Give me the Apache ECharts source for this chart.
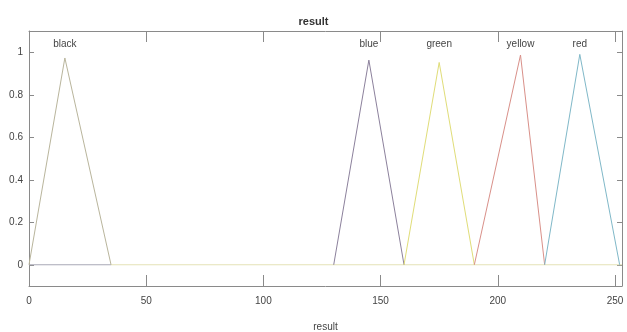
<!DOCTYPE html>
<html>
<head>
<meta charset="utf-8">
<script src="https://cdn.jsdelivr.net/npm/echarts@6/dist/echarts.min.js"></script>
<style>html,body{margin:0;padding:0;background:#fff;}#c{width:627px;height:332px;}</style>
</head>
<body>
<div id="c"></div>
<script>
// Membership functions: [start, peak, end] and peak height
const mfNames = ['black', 'blue', 'green', 'yellow', 'red'];
const mfStart = [0, 130, 160, 190, 220];
const mfPeak = [15.3, 145, 175, 209.7, 235];
const mfEnd = [35, 160, 190, 220, 252];
const mfHeight = [0.973, 0.963, 0.952, 0.987, 0.99];
const mfColors = ['#b9b59c', '#8c819c', '#e0dd78', '#d99089', '#80b8c8'];
// zero baseline segments
const baseGray = [[0, 0], [35, 0]];
const baseLight = [[35, 0], [253, 0]];
const xTicks = [0, 50, 100, 150, 200, 250];
const yTicks = [0, 0.2, 0.4, 0.6, 0.8, 1];
const labelY = 1.04;

const font = "'Liberation Sans Narrow', 'Liberation Sans', Arial, sans-serif";
const axisColor = '#8a8a8a';
const textColor = '#444';

const series = [
  {type: 'line', data: baseLight, symbol: 'none', lineStyle: {color: '#e4e2b6', width: 1}, silent: true, z: 1},
  {type: 'line', data: baseGray, symbol: 'none', lineStyle: {color: '#a8a8b6', width: 1}, silent: true, z: 2}
];
mfNames.forEach((n, i) => {
  series.push({
    type: 'line', name: n, symbol: 'none', silent: true, z: 3,
    data: [[mfStart[i], 0], [mfPeak[i], mfHeight[i]], [mfEnd[i], 0]],
    lineStyle: {color: mfColors[i], width: 1},
    markPoint: {
      symbol: 'circle', symbolSize: 0, silent: true,
      data: [{coord: [mfPeak[i], labelY], value: n}],
      label: {show: true, formatter: n, color: textColor, fontSize: 10, fontFamily: font, position: 'inside'}
    }
  });
});

const chart = echarts.init(document.getElementById('c'), null, {renderer: 'canvas'});
chart.setOption({
  animation: false,
  backgroundColor: '#fff',
  title: {text: 'result', left: 'center', top: 11, textStyle: {fontSize: 11, fontWeight: 'bold', color: '#333', fontFamily: font}},
  grid: {left: 29, right: 5, top: 31, bottom: 46, containLabel: false, outerBoundsMode: 'none'},
  xAxis: [
    {type: 'value', min: 0, max: 253, position: 'bottom',
     name: 'result', nameLocation: 'middle', nameGap: 36,
     nameTextStyle: {fontSize: 10, color: textColor, fontFamily: font},
     axisLine: {show: true, onZero: false, lineStyle: {color: axisColor}},
     axisTick: {show: true, inside: true, length: 11, customValues: xTicks, lineStyle: {color: axisColor}},
     axisLabel: {show: true, customValues: xTicks, fontSize: 10, color: textColor, fontFamily: font, margin: 10},
     splitLine: {show: false}},
    {type: 'value', min: 0, max: 253, position: 'top',
     axisLine: {show: true, onZero: false, lineStyle: {color: axisColor}},
     axisTick: {show: true, inside: true, length: 11, customValues: xTicks, lineStyle: {color: axisColor}},
     axisLabel: {show: false}, splitLine: {show: false}}
  ],
  yAxis: [
    {type: 'value', min: -0.1, max: 1.1, position: 'left',
     name: 'Degree of membership', nameLocation: 'middle', nameGap: 20,
     nameTextStyle: {fontSize: 10, color: textColor, fontFamily: font},
     axisLine: {show: true, onZero: false, lineStyle: {color: axisColor}},
     axisTick: {show: true, inside: true, length: 5, customValues: yTicks, lineStyle: {color: axisColor}},
     axisLabel: {show: true, customValues: yTicks, fontSize: 10, color: textColor, fontFamily: font, margin: 6,
                 formatter: v => String(Math.round(v * 10) / 10)},
     splitLine: {show: false}},
    {type: 'value', min: -0.1, max: 1.1, position: 'right',
     axisLine: {show: true, onZero: false, lineStyle: {color: axisColor}},
     axisTick: {show: true, inside: true, length: 5, customValues: yTicks, lineStyle: {color: axisColor}},
     axisLabel: {show: false}, splitLine: {show: false}}
  ],
  series: series
});
</script>
</body>
</html>
